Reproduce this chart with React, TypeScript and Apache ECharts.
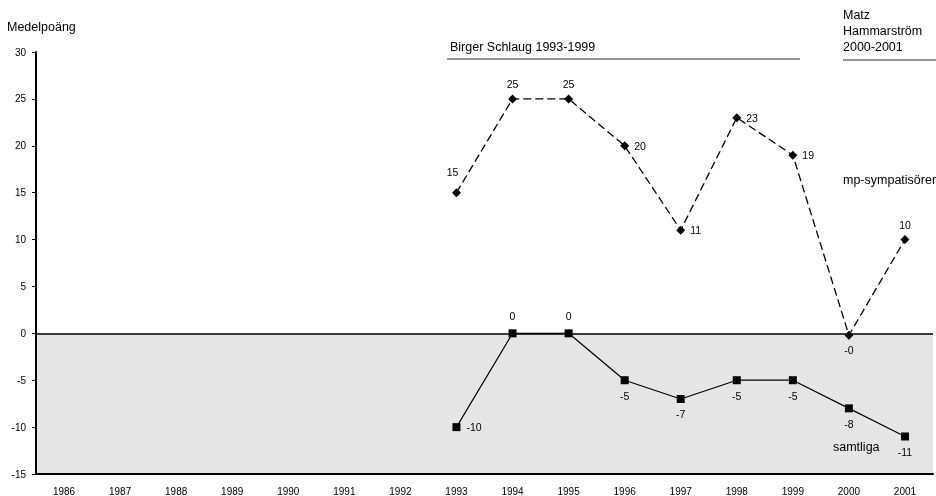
import React, { useEffect, useRef } from "react";
import * as echarts from "echarts";

const years = ["1986", "1987", "1988", "1989", "1990", "1991", "1992", "1993", "1994", "1995", "1996", "1997", "1998", "1999", "2000", "2001"];
const mpValues: (number | null)[] = [null, null, null, null, null, null, null, 15, 25, 25, 20, 11, 23, 19, -0.2, 10];
const samtligaValues: (number | null)[] = [null, null, null, null, null, null, null, -10, 0, 0, -5, -7, -5, -5, -8, -11];
const mpLabelPos = ["top", "top", "top", "top", "top", "top", "top", "top", "top", "top", "right", "right", "right", "right", "bottom", "top"];
const samtligaLabelPos = ["right", "right", "right", "right", "right", "right", "right", "right", "top", "top", "bottom", "bottom", "bottom", "bottom", "bottom", "bottom"];
const yTicks = { min: -15, max: 30, interval: 5 };

const FONT = "Liberation Sans, Arial, sans-serif";

export default function App() {
  const ref = useRef<HTMLDivElement>(null);
  useEffect(() => {
    if (!ref.current) return;
    const chart = echarts.init(ref.current, null, { renderer: "svg" });
    const fmt = (p: any) => Number(p.value).toFixed(0);
    chart.setOption({
      animation: false,
      textStyle: { fontFamily: FONT },
      grid: { left: 36, right: 3, top: 52, bottom: 22, containLabel: false },
      xAxis: {
        type: "category",
        data: years,
        boundaryGap: true,
        z: 5,
        axisLine: { onZero: false, lineStyle: { color: "#000", width: 2 } },
        axisTick: { show: false },
        axisLabel: { color: "#000", fontSize: 10, margin: 12, fontFamily: FONT },
        splitLine: { show: false },
      },
      yAxis: {
        type: "value",
        min: yTicks.min,
        max: yTicks.max,
        interval: yTicks.interval,
        z: 5,
        axisLine: { show: true, lineStyle: { color: "#000", width: 2 } },
        axisTick: { show: true, length: 4, lineStyle: { color: "#000", width: 1 } },
        axisLabel: { color: "#000", fontSize: 10, margin: 10, fontFamily: FONT },
        splitLine: { show: false },
      },
      series: [
        {
          name: "samtliga",
          type: "line",
          data: samtligaValues.map((v, i) => ({
            value: v,
            label: { position: samtligaLabelPos[i] as any, distance: samtligaLabelPos[i] === "top" ? 8 : 6 },
          })),
          connectNulls: false,
          symbol: "rect",
          symbolSize: 8,
          itemStyle: { color: "#000" },
          lineStyle: { color: "#000", width: 1.2 },
          label: { show: true, color: "#000", fontSize: 10.5, fontFamily: FONT, formatter: fmt },
          markArea: {
            silent: true,
            itemStyle: { color: "#e5e5e5" },
            data: [[{ yAxis: 0 }, { yAxis: yTicks.min }]],
          },
          markLine: {
            silent: true,
            symbol: "none",
            label: { show: false },
            lineStyle: { color: "#000", type: "solid", width: 1.5 },
            data: [{ yAxis: 0 }],
          },
          z: 3,
        },
        {
          name: "mp-sympatisörer",
          type: "line",
          data: mpValues.map((v, i) => ({
            value: v,
            label: {
              position: mpLabelPos[i] as any,
              offset: i === 7 ? [-4, -6] : [0, 0],
            },
          })),
          symbol: "diamond",
          symbolSize: 9,
          itemStyle: { color: "#000" },
          lineStyle: { color: "#000", width: 1.3, type: [8, 4] },
          label: { show: true, color: "#000", fontSize: 10.5, fontFamily: FONT, formatter: fmt },
          z: 4,
        },
      ],
      graphic: [
        { type: "text", left: 7, top: 20, style: { text: "Medelpoäng", fontSize: 12.5, fontFamily: FONT, fill: "#000" } },
        { type: "text", left: 450, top: 40, style: { text: "Birger Schlaug 1993-1999", fontSize: 12.5, fontFamily: FONT, fill: "#000" } },
        { type: "line", shape: { x1: 447, y1: 59, x2: 800, y2: 59 }, style: { stroke: "#333", lineWidth: 1.2 } },
        {
          type: "text",
          left: 843,
          top: 7,
          style: { text: "Matz\nHammarström\n2000-2001", fontSize: 12.5, lineHeight: 16, fontFamily: FONT, fill: "#000" },
        },
        { type: "line", shape: { x1: 843, y1: 60, x2: 936, y2: 60 }, style: { stroke: "#333", lineWidth: 1.2 } },
        { type: "text", left: 843, top: 173, style: { text: "mp-sympatisörer", fontSize: 12.5, fontFamily: FONT, fill: "#000" } },
        { type: "text", left: 833, top: 440, z: 10, style: { text: "samtliga", fontSize: 12.5, fontFamily: FONT, fill: "#000" } },
      ],
    });
    return () => chart.dispose();
  }, []);
  return <div ref={ref} style={{ position: "fixed", left: 0, top: 0, width: 936, height: 496 }} />;
}
